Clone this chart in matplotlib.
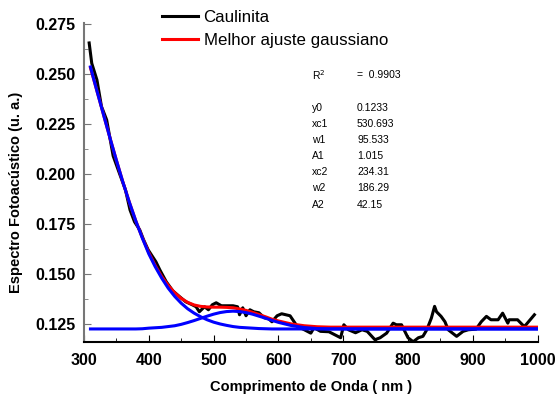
import matplotlib
matplotlib.use("Agg")
from matplotlib import pyplot as plt
from matplotlib.ticker import MultipleLocator, FormatStrFormatter

# Espectro medido (Caulinita)
onda_caulinita = [308, 312, 320, 327, 335, 345, 355, 364, 371, 378, 386, 392, 399, 406, 411,
                  417, 427, 437, 447, 457, 467, 473, 478, 486, 492, 498, 504, 512, 520, 530,
                  537, 540, 545, 550, 556, 562, 570, 578, 585, 590, 598, 605, 618, 629, 640,
                  650, 655, 665, 678, 690, 696, 701, 708, 719, 729, 737, 749, 757, 767, 777,
                  782, 790, 800, 808, 816, 823, 829, 836, 841, 844, 851, 857, 862, 875, 885,
                  893, 905, 913, 921, 928, 939, 946, 954, 956, 969, 979, 982, 995]
caulinita = [0.2655, 0.2553, 0.2470, 0.2337, 0.2270, 0.2090, 0.2000, 0.1920, 0.1820, 0.1760,
             0.1720, 0.1670, 0.1620, 0.1585, 0.1560, 0.1520, 0.1460, 0.1415, 0.1387, 0.1360,
             0.1345, 0.1335, 0.1310, 0.1335, 0.1320, 0.1345, 0.1355, 0.1340, 0.1340, 0.1340,
             0.1335, 0.1295, 0.1330, 0.1290, 0.1320, 0.1310, 0.1305, 0.1280, 0.1275, 0.1260,
             0.1290, 0.1300, 0.1290, 0.1237, 0.1220, 0.1203, 0.1230, 0.1212, 0.1210, 0.1190,
             0.1180, 0.1245, 0.1220, 0.1205, 0.1220, 0.1212, 0.1170, 0.1180, 0.1203, 0.1253,
             0.1245, 0.1245, 0.1180, 0.1160, 0.1180, 0.1187, 0.1220, 0.1278, 0.1337, 0.1310,
             0.1287, 0.1260, 0.1220, 0.1187, 0.1212, 0.1220, 0.1223, 0.1260, 0.1287, 0.1270,
             0.1270, 0.1303, 0.1253, 0.1270, 0.1270, 0.1237, 0.1245, 0.1295]

# Ajuste total e componentes gaussianas
onda_ajuste = [310, 320, 330, 340, 350, 360, 370, 380, 390, 400, 410, 420, 430, 440, 450,
               460, 470, 480, 490, 500, 510, 520, 530, 540, 550, 560, 570, 580, 590, 600,
               620, 640, 660, 680, 700, 800, 900, 1000]
ajuste = [0.2531, 0.2415, 0.2298, 0.2181, 0.2068, 0.1959, 0.1858, 0.1764, 0.1681, 0.1606,
          0.1541, 0.1486, 0.1442, 0.1405, 0.1377, 0.1357, 0.1344, 0.1337, 0.1334, 0.1333,
          0.1333, 0.1332, 0.1330, 0.1324, 0.1317, 0.1307, 0.1296, 0.1285, 0.1273, 0.1264,
          0.1249, 0.1240, 0.1235, 0.1233, 0.1233, 0.1233, 0.1233, 0.1233]
pico1 = [0.1224, 0.1224, 0.1224, 0.1224, 0.1224, 0.1224, 0.1224, 0.1224, 0.1225, 0.1228,
         0.1230, 0.1232, 0.1236, 0.1240, 0.1247, 0.1256, 0.1266, 0.1277, 0.1288, 0.1298,
         0.1306, 0.1311, 0.1313, 0.1311, 0.1306, 0.1298, 0.1288, 0.1278, 0.1267, 0.1257,
         0.1241, 0.1231, 0.1226, 0.1224, 0.1224, 0.1224, 0.1224, 0.1224]
pico2 = [0.2535, 0.2415, 0.2298, 0.2181, 0.2068, 0.1959, 0.1858, 0.1764, 0.1679, 0.1600,
         0.1535, 0.1478, 0.1428, 0.1387, 0.1353, 0.1325, 0.1303, 0.1285, 0.1270, 0.1258,
         0.1249, 0.1242, 0.1236, 0.1232, 0.1230, 0.1228, 0.1226, 0.1225, 0.1224, 0.1224,
         0.1224, 0.1224, 0.1224, 0.1224, 0.1224, 0.1224, 0.1224, 0.1224]

parametros = ["y0", "xc1", "w1", "A1", "xc2", "w2", "A2"]
valores = ["0.1233", "530.693", "95.533", "1.015", "234.31", "186.29", "42.15"]

plt.rcParams["font.family"] = ["Liberation Sans", "DejaVu Sans"]

fig = plt.figure(figsize=(5.58, 3.96), dpi=100)
ax = fig.add_axes([0.1505, 0.136, 0.813, 0.806])

ax.plot(onda_caulinita, caulinita, color="black", lw=2.2, label="Caulinita")
ax.plot(onda_ajuste, ajuste, color="#ff0000", lw=2.2, label="Melhor ajuste gaussiano")
ax.plot(onda_ajuste, pico1, color="#0000ff", lw=2.2)
ax.plot(onda_ajuste, pico2, color="#0000ff", lw=2.2)

ax.set_xlim(300, 1000)
ax.set_ylim(0.1158, 0.2755)
ax.xaxis.set_major_locator(MultipleLocator(100))
ax.xaxis.set_minor_locator(MultipleLocator(50))
ax.yaxis.set_major_locator(MultipleLocator(0.025))
ax.yaxis.set_minor_locator(MultipleLocator(0.0125))
ax.yaxis.set_major_formatter(FormatStrFormatter("%.3f"))

ax.spines["top"].set_visible(False)
ax.spines["right"].set_visible(False)
ax.spines["left"].set_color("#777777")
ax.spines["left"].set_linewidth(1.5)
ax.spines["bottom"].set_linewidth(1.5)
ax.tick_params(axis="both", which="both", direction="in")
ax.tick_params(axis="both", which="major", length=5, labelsize=11.5)
ax.tick_params(axis="both", which="minor", length=3)
ax.tick_params(axis="y", which="both", color="#777777", pad=6)
ax.tick_params(axis="x", pad=8)
for t in ax.get_xticklabels() + ax.get_yticklabels():
    t.set_fontweight("bold")

ax.set_xlabel("Comprimento de Onda ( nm )", fontsize=10.5, fontweight="bold")
ax.xaxis.set_label_coords(0.5, -0.118)
ax.set_ylabel("Espectro Fotoacústico (u. a.)", fontsize=10.5, fontweight="bold")
ax.yaxis.set_label_coords(-0.134, 0.47)

ax.legend(loc="upper left", bbox_to_anchor=(162 / 558, 1 - 10 / 396),
          bbox_transform=fig.transFigure, frameon=False, fontsize=12.2,
          handlelength=2.1, handletextpad=0.35, labelspacing=0.45,
          borderpad=0, borderaxespad=0)

# Tabela de parametros do ajuste (posicoes em pixels da figura)
def px(x, y):
    return x / 558, 1 - y / 396

ax.text(*px(312, 75), "R$^2$", fontsize=7.5, va="center", transform=fig.transFigure)
ax.text(*px(357, 75), "=  0.9903", fontsize=7.5, va="center", transform=fig.transFigure)
linhas_y = [108, 124, 140, 156, 172, 188, 205]
for nome, valor, py in zip(parametros, valores, linhas_y):
    ax.text(*px(312, py), nome, fontsize=7.5, va="center", transform=fig.transFigure)
    ax.text(*px(357, py), valor, fontsize=7.5, va="center", transform=fig.transFigure)

fig.savefig("out.png", dpi=100)
